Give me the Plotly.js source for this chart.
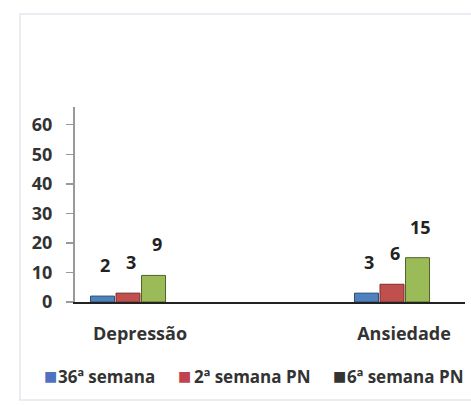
<!DOCTYPE html>
<html><head><meta charset="utf-8">
<script src="https://cdn.plot.ly/plotly-3.0.1.min.js"></script>
<style>html,body{margin:0;padding:0;background:#fff}#chart{width:471px;height:405px}</style>
</head><body><div id="chart"></div>
<script>
const categories = ["Depressão", "Ansiedade"];
const seriesNames = ["36ª semana", "2ª semana PN", "6ª semana PN"];
const sem36 = [2, 3];
const sem2PN = [3, 6];
const sem6PN = [9, 15];
const yTicks = [0, 10, 20, 30, 40, 50, 60];

const colors = ["#4F81BD", "#C0504D", "#9BBB59"];
const legendColors = ["#4F72BE", "#C0444D", "#333333"];
const lineColors = ["#2c4d75", "#7a2e2c", "#4f6228"];
const seriesValues = [sem36, sem2PN, sem6PN];
const FONT = "'Open Sans', 'Noto Sans', sans-serif";

const bargap = 0.71, bargroupgap = 0.06;
const traces = seriesValues.map((vals, i) => ({
  type: "bar", x: categories, y: vals, name: seriesNames[i],
  marker: {color: colors[i], line: {color: lineColors[i], width: 1}},
  hoverinfo: "x+y+name"
}));

// data labels, positioned from data via library scales
const annotations = [];
const slot = (1 - bargap) / seriesValues.length;
seriesValues.forEach((vals, i) => {
  vals.forEach((v, j) => {
    annotations.push({
      x: j + (i - 1) * slot, y: v, xref: "x", yref: "y",
      text: String(v), showarrow: false, yanchor: "middle",
      xshift: 3, yshift: 31,
      font: {family: FONT, size: 18, color: "#222", weight: 700}
    });
  });
});

// manual legend (paper coords: plot spans x 75..465 px, y 107..302 px)
const px2x = p => (p - 75) / 390;
const px2y = p => (302 - p) / 195;
const legSquareX = [42, 176, 331];
const legTextX = [56, 192, 345];
seriesNames.forEach((n, i) => {
  annotations.push({
    xref: "paper", yref: "paper", x: px2x(legSquareX[i]), y: px2y(376),
    xanchor: "left", yanchor: "middle", showarrow: false,
    text: "■", font: {family: "DejaVu Sans", size: 14, color: legendColors[i]}
  });
  annotations.push({
    xref: "paper", yref: "paper", x: px2x(legTextX[i]), y: px2y(376),
    xanchor: "left", yanchor: "middle", showarrow: false,
    text: n, font: {family: FONT, size: 17, color: "#333", weight: 700}
  });
});

const layout = {
  width: 471, height: 405,
  margin: {l: 75, r: 6, t: 107, b: 103},
  paper_bgcolor: "#fff", plot_bgcolor: "#fff",
  showlegend: false,
  barmode: "group", bargap: bargap, bargroupgap: bargroupgap,
  xaxis: {
    type: "category", range: [-0.2008, 1.2765],
    showline: true, linecolor: "#222", linewidth: 2,
    ticks: "", showgrid: false, zeroline: false,
    ticklabelshift: 12, ticklabelstandoff: 14,
    tickfont: {family: FONT, size: 18, color: "#333", weight: 700}
  },
  yaxis: {
    range: [0, 66], tickvals: yTicks, ticktext: yTicks.map(String),
    showline: true, linecolor: "#999", linewidth: 2,
    ticks: "outside", ticklen: 7, tickcolor: "#999", tickwidth: 1.5,
    showgrid: false, zeroline: false, ticklabelstandoff: 10,
    tickfont: {family: FONT, size: 18, color: "#333", weight: 700}
  },
  shapes: [{
    type: "rect", xref: "paper", yref: "paper",
    x0: px2x(20), x1: px2x(560), y0: px2y(400), y1: px2y(14),
    line: {color: "#e4e6ee", width: 1.5}, fillcolor: "rgba(0,0,0,0)", layer: "below"
  }],
  annotations: annotations
};

Plotly.newPlot("chart", traces, layout, {displayModeBar: false, staticPlot: true});
</script></body></html>
